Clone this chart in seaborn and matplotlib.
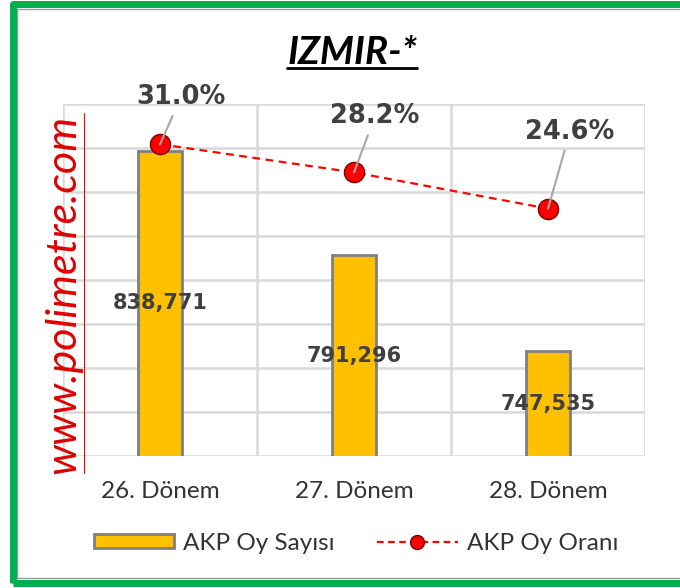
import numpy as np
import matplotlib.pyplot as plt
import seaborn as sns
from matplotlib.patches import Patch, Rectangle
from matplotlib.lines import Line2D

periods = ["26. Dönem", "27. Dönem", "28. Dönem"]
votes = [838771, 791296, 747535]
rates = [31.0, 28.2, 24.6]
vote_labels = ["838,771", "791,296", "747,535"]
rate_labels = ["31.0%", "28.2%", "24.6%"]
legend_names = ["AKP Oy Sayısı", "AKP Oy Oranı"]
title = "IZMIR-*"
watermark = "www.polimetre.com"

# axis ranges
vote_min, vote_max, vote_step = 700000, 860000, 20000
rate_max = 35

# where the % labels sit relative to their markers (pixels)
label_offsets = [(21, 47), (21, 56), (22, 77)]

GOLD = "#FFC000"
EDGE = "#808080"
GRID = "#d9d9d9"
DARK = "#404040"
W, H = 680, 588

sns.set_theme(style="white")
plt.rcParams["font.family"] = ["Lato", "DejaVu Sans"]

fig = plt.figure(figsize=(W / 100, H / 100), dpi=100)
ax = fig.add_axes([63 / W, 1 - 456 / H, (645 - 63) / W, (456 - 104) / H])

sns.barplot(x=periods, y=votes, color=GOLD, saturation=1, edgecolor=EDGE,
            linewidth=2, width=0.23, ax=ax, zorder=2)
ax.set_ylim(vote_min, vote_max)
ax.set_yticks(np.arange(vote_min, vote_max + 1, vote_step))
ax.yaxis.set_major_formatter(plt.NullFormatter())
ax.set_xlim(-0.5, len(periods) - 0.5)
ax.set_xticks(np.arange(len(periods) + 1) - 0.5, minor=True)
ax.set_axisbelow(True)
ax.grid(axis="y", which="major", color=GRID, lw=1.8)
ax.grid(axis="x", which="minor", color=GRID, lw=1.8)
ax.set_xlabel("")
ax.set_ylabel("")
for s in ax.spines.values():
    s.set_visible(False)

for i, (v, lab) in enumerate(zip(votes, vote_labels)):
    ax.text(i, (vote_min + v) / 2, lab, ha="center", va="center", fontsize=15,
            fontweight="bold", color=DARK, family="DejaVu Sans", zorder=5)

ax2 = ax.twinx()
sns.lineplot(x=periods, y=rates, ax=ax2, sort=False, color="red",
             linestyle=(0, (3.5, 2.5)), linewidth=1.6, marker="o", markersize=14.5,
             markerfacecolor="red", markeredgecolor="#7a0000",
             markeredgewidth=1, zorder=3)
ax2.set_ylim(0, rate_max)
ax2.set_yticks([])
ax2.set_ylabel("")
ax2.grid(False)
ax2.tick_params(which="both", left=False, right=False, labelright=False)
for s in ax2.spines.values():
    s.set_visible(False)

# twinx turns the left ticks back on, so switch them off here
ax.tick_params(axis="y", which="both", left=False, right=False, labelleft=False)
ax.tick_params(axis="x", which="both", bottom=False, labelsize=17.5,
               labelcolor="#333333", pad=12)

for i, (r, lab, off) in enumerate(zip(rates, rate_labels, label_offsets)):
    ax2.annotate(lab, xy=(i, r), xytext=off, textcoords="offset pixels",
                 ha="center", va="center", fontsize=18.5, fontweight="bold",
                 color=DARK, family="DejaVu Sans", zorder=6,
                 arrowprops=dict(arrowstyle="-", color="#a6a6a6", lw=1.5,
                                 shrinkA=2, shrinkB=0))

# watermark
fig.text(63.5 / W, 1 - 294 / H, watermark, rotation=90, ha="center", va="center",
         fontsize=31, style="italic", color="#e00000", zorder=10)
fig.add_artist(Line2D([84 / W] * 2, [1 - 113 / H, 1 - 473 / H], color="red", lw=0.8))

# title with underline
t = fig.text(352 / W, 1 - 64 / H, title, ha="center", va="baseline", fontsize=28,
             fontweight="bold", style="italic", color="black")
fig.canvas.draw()
bb = t.get_window_extent()
fig.add_artist(Line2D([bb.x0 / W, bb.x1 / W], [1 - 68 / H] * 2, color="black", lw=2))

handles = [Patch(facecolor=GOLD, edgecolor=EDGE, linewidth=2),
           Line2D([], [], color="red", linestyle=(0, (3, 2)), lw=1.6, marker="o",
                  markersize=10, markerfacecolor="red", markeredgecolor="#7a0000")]
fig.legend(handles, legend_names, loc="center", bbox_to_anchor=(356 / W, 1 - 543 / H),
           ncol=2, frameon=False, fontsize=17.5, handlelength=3.3, handleheight=0.55,
           handletextpad=0.37, columnspacing=1.75, labelcolor="#333333")

# frame around the whole picture
fig.add_artist(Rectangle((17 / W, 1 - 577.5 / H), (690 - 17) / W, (577.5 - 8.5) / H,
                         transform=fig.transFigure, fill=False, edgecolor="#999999", lw=1))
fig.add_artist(Rectangle((13 / W, 1 - 582.5 / H), (690 - 13) / W, (582.5 - 3.5) / H,
                         transform=fig.transFigure, fill=False, edgecolor="#00b050",
                         lw=5, joinstyle="round"))

fig.savefig("out.png", dpi=100)
